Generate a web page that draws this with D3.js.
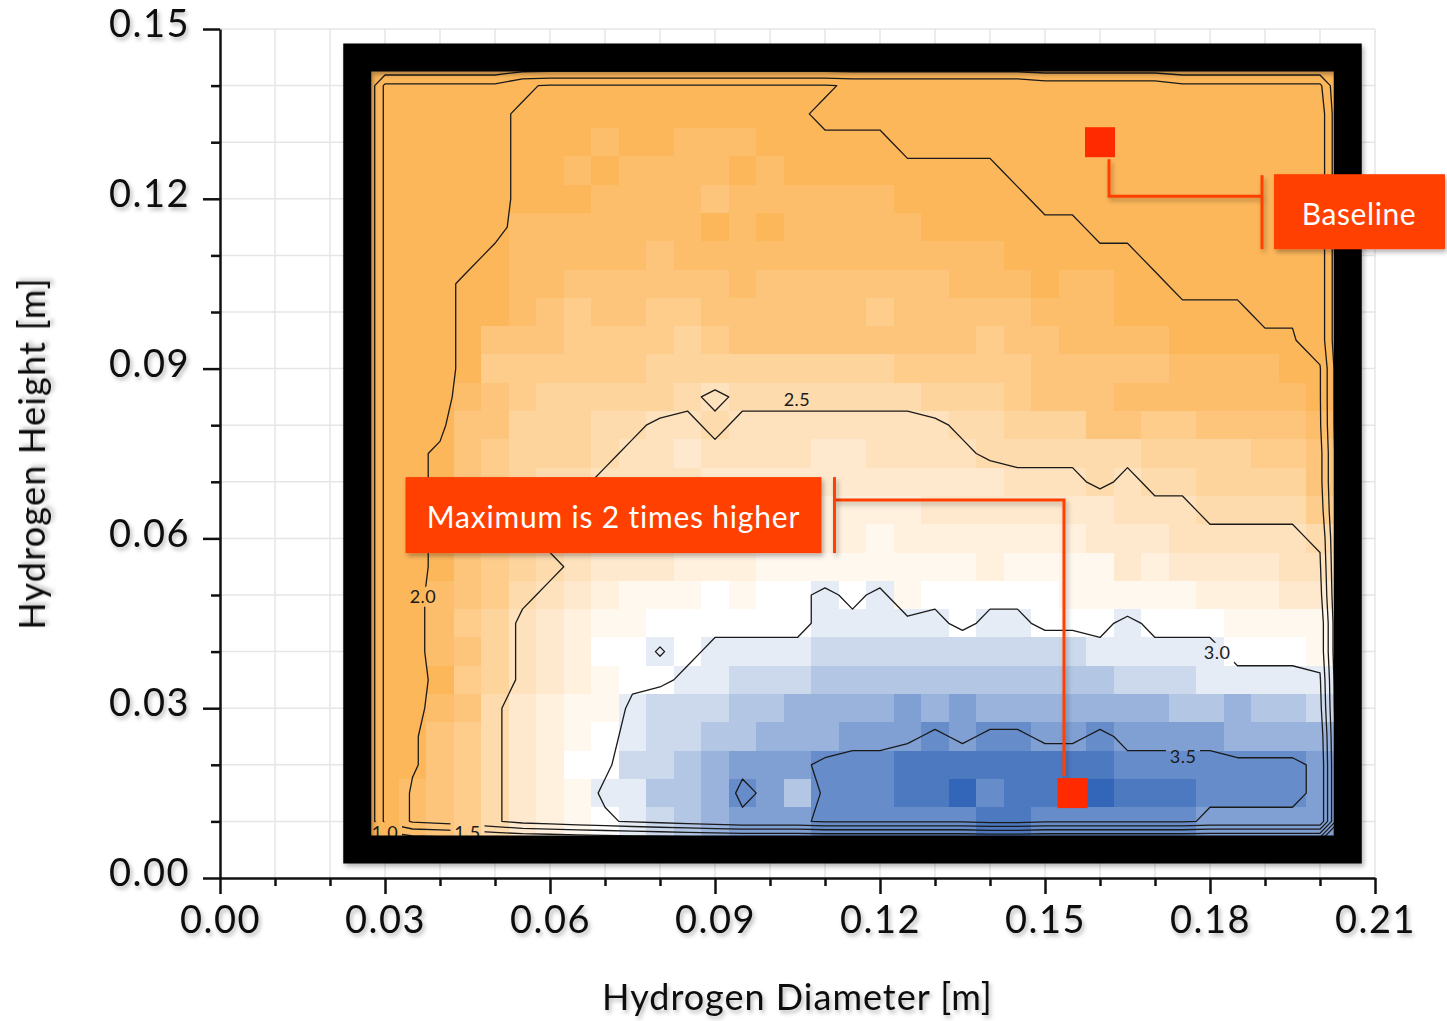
<!DOCTYPE html>
<html>
<head>
<meta charset="utf-8">
<script src="https://cdn.jsdelivr.net/npm/d3@7"></script>
<style>
  body { margin: 0; background: #fff; }
  svg { display: block; font-family: Lato, "Open Sans", sans-serif; }
</style>
</head>
<body>
<svg id="chart" width="1447" height="1021"></svg>
<script>
// grid cell centres: hydrogen diameter (columns) and hydrogen height (rows, top to bottom)
const diameters = [0.030, 0.035, 0.040, 0.045, 0.050, 0.055, 0.060, 0.065, 0.070, 0.075,
                   0.080, 0.085, 0.090, 0.095, 0.100, 0.105, 0.110, 0.115, 0.120, 0.125,
                   0.130, 0.135, 0.140, 0.145, 0.150, 0.155, 0.160, 0.165, 0.170, 0.175,
                   0.180, 0.185, 0.190, 0.195, 0.200];
const heights = [0.140, 0.135, 0.130, 0.125, 0.120, 0.115, 0.110, 0.105, 0.100, 0.095,
                 0.090, 0.085, 0.080, 0.075, 0.070, 0.065, 0.060, 0.055, 0.050, 0.045,
                 0.040, 0.035, 0.030, 0.025, 0.020, 0.015, 0.010];

// one character per cell; each code stands for a value
const codeKeys   = ["x", "y", "a", "b", "1", "2", "3", "4", "5", "6", "7", "8", "9", "w",
                    "v", "A", "B", "C", "D", "E", "F", "G", "H"];
const codeValues = [1.60, 1.80, 1.96, 2.03, 2.05, 2.15, 2.25, 2.35, 2.45, 2.55, 2.65, 2.75, 2.85, 2.95,
                    3.01, 3.05, 3.15, 3.25, 3.35, 3.45, 3.55, 3.65, 3.75];

const rows = [
  "xxxxx a bbbbbbbbbbb aaaaaaa yyyyy xxxxxx",
  "x aaaa bbbbbbbbbbb aaaaaaaaaaaaaaaaaa y",
  "x aaaa bbb 1 bb 111 bbbbb aaaaaaaaaaaaaaa y",
  "x aaaa bb 1 b 1111 b 1 bbbbbbbb aaaaaaaaaaa y",
  "x aaaa bbb 1111 2 111111 bbbbb aaaaaaaaaa y",
  "x aaaa 1111111 b 1 b 11111 bbbbbb aaaaaaaa y",
  "x aaa b 11111 2 111111111111 bbbbb aaaaaa y",
  "x aa bb 11 222222 1 2222222 111 b 11 bb aaaaa y",
  "x aa bb 1 2 3 22 33 222222 3 22222 111 bbbbb aa y",
  "x aa b 222 3333 4 3 2222222 22 3 2 2 1111 bbbbb y",
  "x aa b 333333 444444444 33333 22222 1111 b b",
  "x aa 1 2 3 44444 5 6 5555555 444 3 222 1111111 b",
  "x aa 2 2 444 55 66 5 66666666 55 4 44 22 33 2222 1",
  "x a b 2 3 44 4 5 66 7 6666 77 6666 55 5555 4444 33 2",
  "x a b 2 3 4 5 5 6666 77777 777777 6 66 5 6 55 4444 2",
  "x a b 2 3 4 5 6 77777777 88 88 7777 777 666 555 5 3",
  "x a b 2 3 5 6 7 88888888 88 9 88888 88 777 666 6 6 5",
  "x a b 2 3 4 5 6 777 888 99999999 8 9999 7 8 7777 6 6",
  "x a 1 2 3 5 6 7 8 999 w 9 ww A w A 9 wwwww 99999 888 7 7",
  "x a 1 3 4 6 7 8 99 wwwwww AAAAA w AA www A www 9999",
  "x a 1 2 4 6 7 8 ww v w AAAA BBBBBBBBBB AAAAA www 9",
  "x a b 3 4 6 7 8 9 ww AA BBB CCCCCCCCCCC BBB AAAAA",
  "x a 1 2 5 7 8 99 A BBB CC DDDD E D E DDDDDDD CC D CC B",
  "x a 2 3 5 7 8 9 w A BB CC DDD EEE F E FF EE F EEEE DDDD",
  "x a 2 3 5 7 8 ww BB C D EEE FFF GGGGGGGG FFFFFFF E",
  "x 1 2 3 5 7 8 9 AA CC D F E C FFF GG H F GG H H GGG FFFF E",
  "x 1 2 3 5 7 8 9 w A B C D EEE FFFFFF GG FFFFFF EEEEE"
];

const contourLevels = [1.0, 1.5, 2.0, 2.5, 3.0, 3.5];
const labelText = ["2.0", "2.5", "3.0", "3.5", "1.0", "1.5"];
const labelX = [0.0369, 0.1049, 0.1813, 0.1751, 0.0300, 0.0450];
const labelY = [0.0497, 0.0845, 0.0398, 0.0214, 0.0081, 0.0081];

const xTicks = [0.00, 0.03, 0.06, 0.09, 0.12, 0.15, 0.18, 0.21];
const yTicks = [0.00, 0.03, 0.06, 0.09, 0.12, 0.15];
const xGrid = [0.01, 0.02, 0.03, 0.04, 0.05, 0.06, 0.07, 0.08, 0.09, 0.10, 0.11,
               0.12, 0.13, 0.14, 0.15, 0.16, 0.17, 0.18, 0.19, 0.20, 0.21];
const yGrid = [0.01, 0.02, 0.03, 0.04, 0.05, 0.06, 0.07, 0.08, 0.09, 0.10, 0.11,
               0.12, 0.13, 0.14, 0.15];

const markerNames = ["Baseline", "Maximum is 2 times higher"];
const markerX = [0.160, 0.155];
const markerY = [0.130, 0.015];

const W = 1447, H = 1021;
const svg = d3.select("#chart");
const x = d3.scaleLinear().domain([0, 0.21]).range([220, 1375]);
const y = d3.scaleLinear().domain([0, 0.15]).range([878, 29]);

const orangeEnd = "#fdb75b", blueEnd = "#3366b8";
const colorThresholds = [2.04, 2.1, 2.2, 2.3, 2.4, 2.5, 2.6, 2.7, 2.8, 2.9,
                         3.0, 3.1, 3.2, 3.3, 3.4, 3.5, 3.6, 3.7];
const colorRange = d3.range(19).map(k => k <= 10
  ? d3.interpolateRgb(orangeEnd, "#ffffff")(k / 10)
  : d3.interpolateRgb("#ffffff", blueEnd)((k - 10) / 8));
const color = d3.scaleThreshold().domain(colorThresholds).range(colorRange);

const values = rows.map(r => Array.from(r.replace(/ /g, ""), ch => codeValues[codeKeys.indexOf(ch)]));
const nx = diameters.length, ny = heights.length;
const dx = diameters[1] - diameters[0];
const dh = heights[0] - heights[1];

// ---- defs: shadows and label gaps
const defs = svg.append("defs");
// user space region so zero-width leader lines still get drawn
const shadow = defs.append("filter").attr("id", "shadow").attr("filterUnits", "userSpaceOnUse")
  .attr("x", -W).attr("y", -H).attr("width", 3 * W).attr("height", 3 * H);
shadow.append("feDropShadow").attr("dx", 2).attr("dy", 3).attr("stdDeviation", 2.5)
  .attr("flood-color", "#000").attr("flood-opacity", 0.3);
const textShadow = defs.append("filter").attr("id", "textShadow")
  .attr("x", "-10%").attr("y", "-25%").attr("width", "130%").attr("height", "160%");
textShadow.append("feDropShadow").attr("dx", 2).attr("dy", 3).attr("stdDeviation", 2)
  .attr("flood-color", "#000").attr("flood-opacity", 0.28);

const mask = defs.append("mask").attr("id", "labelGaps").attr("maskUnits", "userSpaceOnUse")
  .attr("x", 0).attr("y", 0).attr("width", W).attr("height", H);
mask.append("rect").attr("width", W).attr("height", H).attr("fill", "#fff");
mask.selectAll("rect.gap").data(labelText).join("rect").attr("class", "gap")
  .attr("x", (d, i) => x(labelX[i]) - 17).attr("y", (d, i) => y(labelY[i]) - 10)
  .attr("width", 34).attr("height", 20).attr("fill", "#000");

// ---- grid lines
const grid = svg.append("g").attr("stroke", "#e6e6e6").attr("stroke-width", 1.5);
grid.selectAll("line.v").data(xGrid).join("line").attr("class", "v")
  .attr("x1", d => x(d)).attr("x2", d => x(d)).attr("y1", y(0.15)).attr("y2", y(0));
grid.selectAll("line.h").data(yGrid).join("line").attr("class", "h")
  .attr("x1", x(0)).attr("x2", x(0.21)).attr("y1", d => y(d)).attr("y2", d => y(d));

// ---- heatmap
const cells = [];
values.forEach((row, j) => row.forEach((v, i) => cells.push({ d: diameters[i], h: heights[j], v })));
svg.append("g").attr("shape-rendering", "crispEdges")
  .selectAll("rect").data(cells).join("rect")
  .attr("x", c => x(c.d - dx / 2))
  .attr("y", c => y(c.h + dh / 2))
  .attr("width", x(dx) - x(0) + 0.6)
  .attr("height", y(0) - y(dh) + 0.6)
  .attr("fill", c => color(c.v));

// ---- contour lines (grid padded with zeros all round)
const padded = [];
for (let j = 0; j < ny + 2; j++) {
  for (let i = 0; i < nx + 2; i++) {
    const edge = i === 0 || j === 0 || i === nx + 1 || j === ny + 1;
    padded.push(edge ? 0 : values[j - 1][i - 1]);
  }
}
const contours = d3.contours().size([nx + 2, ny + 2]).thresholds(contourLevels)(padded);
const gx = c => x(diameters[0] + dx * (c - 1.5));
const gy = c => y(heights[0] - dh * (c - 1.5));
const proj = d3.geoTransform({ point(px, py) { this.stream.point(gx(px), gy(py)); } });
const contourPath = d3.geoPath(proj);

svg.append("g").attr("mask", "url(#labelGaps)")
  .selectAll("path").data(contours).join("path")
  .attr("d", contourPath)
  .attr("fill", "none").attr("stroke", "#1a1a1a").attr("stroke-width", 1.3)
  .attr("stroke-linejoin", "round");

svg.append("g").selectAll("text").data(labelText).join("text")
  .attr("x", (d, i) => x(labelX[i])).attr("y", (d, i) => y(labelY[i]))
  .attr("dy", "0.36em").attr("text-anchor", "middle")
  .attr("font-size", 18).attr("letter-spacing", 0.5).attr("fill", "#1a1a1a")
  .text(d => d);

// ---- black frame round the map
const fx0 = x(diameters[0] - dx / 2), fx1 = x(diameters[nx - 1] + dx / 2);
const fy0 = y(heights[0] + dh / 2), fy1 = y(heights[ny - 1] - dh / 2);
const t = 28;
svg.append("path")
  .attr("d", `M${fx0 - t},${fy0 - t}H${fx1 + t}V${fy1 + t}H${fx0 - t}Z` +
             `M${fx0},${fy0}H${fx1}V${fy1}H${fx0}Z`)
  .attr("fill", "#000").attr("fill-rule", "evenodd")
  .attr("filter", "url(#shadow)");

// ---- axes
function styleAxis(g) {
  g.select(".domain").attr("stroke", "#111").attr("stroke-width", 2.5);
  g.selectAll(".tick line").attr("stroke", "#111").attr("stroke-width", 2.5);
  g.selectAll(".tick text").attr("fill", "#111").attr("letter-spacing", 1.5)
    .attr("filter", "url(#textShadow)");
}
const yMinor = yGrid.filter(v => !yTicks.includes(v));
const xMinor = xGrid.filter(v => !xTicks.includes(v));

svg.append("g").attr("transform", `translate(${x(0)},0)`)
  .call(d3.axisLeft(y).tickValues(yMinor).tickSize(9).tickSizeOuter(0).tickFormat(""))
  .call(g => g.select(".domain").remove())
  .call(styleAxis);
svg.append("g").attr("transform", `translate(0,${y(0)})`)
  .call(d3.axisBottom(x).tickValues(xMinor).tickSize(8).tickSizeOuter(0).tickFormat(""))
  .call(g => g.select(".domain").remove())
  .call(styleAxis);

svg.append("g").attr("transform", `translate(${x(0)},0)`)
  .call(d3.axisLeft(y).tickValues(yTicks).tickSize(17).tickSizeOuter(0).tickPadding(13)
        .tickFormat(d3.format(".2f")))
  .attr("font-size", 38).attr("font-family", "Lato, 'Open Sans', sans-serif")
  .call(styleAxis)
  .call(g => g.selectAll(".tick text").attr("dy", "0.2em"));
svg.append("g").attr("transform", `translate(0,${y(0)})`)
  .call(d3.axisBottom(x).tickValues(xTicks).tickSize(16).tickSizeOuter(0).tickPadding(12)
        .tickFormat(d3.format(".2f")))
  .attr("font-size", 38).attr("font-family", "Lato, 'Open Sans', sans-serif")
  .call(styleAxis);

svg.append("text")
  .attr("x", (x(0) + x(0.21)) / 2).attr("y", 1010)
  .attr("text-anchor", "middle").attr("font-size", 36).attr("letter-spacing", 1).attr("fill", "#111")
  .attr("filter", "url(#textShadow)")
  .text("Hydrogen Diameter [m]");
svg.append("text")
  .attr("transform", `translate(45,${(y(0) + y(0.15)) / 2}) rotate(-90)`)
  .attr("text-anchor", "middle").attr("font-size", 36).attr("letter-spacing", 1.2).attr("fill", "#111")
  .attr("filter", "url(#textShadow)")
  .text("Hydrogen Height [m]");

// ---- call-outs
const red = "#ff2a00", boxRed = "#ff3f00";
const ann = svg.append("g");

// Baseline
const bx = x(markerX[0]), by = y(markerY[0]);
ann.append("path")
  .attr("d", `M${bx + 9},${by + 17}V${by + 54}H${bx + 162}`)
  .attr("fill", "none").attr("stroke", boxRed).attr("stroke-width", 3).attr("filter", "url(#shadow)");
ann.append("line").attr("x1", bx + 162).attr("x2", bx + 162).attr("y1", by + 33).attr("y2", by + 107)
  .attr("stroke", boxRed).attr("stroke-width", 3).attr("filter", "url(#shadow)");
ann.append("rect").attr("x", bx + 174).attr("y", by + 32).attr("width", 171).attr("height", 75)
  .attr("fill", boxRed).attr("filter", "url(#shadow)");
ann.append("text").attr("x", bx + 259).attr("y", by + 83).attr("text-anchor", "middle")
  .attr("font-size", 30).attr("letter-spacing", 0.6).attr("fill", "#fff").text(markerNames[0]);

// Maximum
const mx = x(markerX[1]), my = y(markerY[1]);
ann.append("path")
  .attr("d", `M${mx - 8.5},${my - 17}V${my - 293}H${mx - 238}`)
  .attr("fill", "none").attr("stroke", boxRed).attr("stroke-width", 3).attr("filter", "url(#shadow)");
ann.append("line").attr("x1", mx - 238).attr("x2", mx - 238).attr("y1", my - 316).attr("y2", my - 240)
  .attr("stroke", boxRed).attr("stroke-width", 3).attr("filter", "url(#shadow)");
ann.append("rect").attr("x", mx - 667).attr("y", my - 316).attr("width", 416).attr("height", 76)
  .attr("fill", boxRed).attr("filter", "url(#shadow)");
ann.append("text").attr("x", mx - 459).attr("y", my - 265).attr("text-anchor", "middle")
  .attr("font-size", 30).attr("letter-spacing", 0.8).attr("fill", "#fff").text(markerNames[1]);

// markers
ann.selectAll("rect.marker").data(markerX).join("rect").attr("class", "marker")
  .attr("x", (d, i) => x(markerX[i]) - 15).attr("y", (d, i) => y(markerY[i]) - 15)
  .attr("width", 30).attr("height", 30).attr("fill", red);
</script>
</body>
</html>
